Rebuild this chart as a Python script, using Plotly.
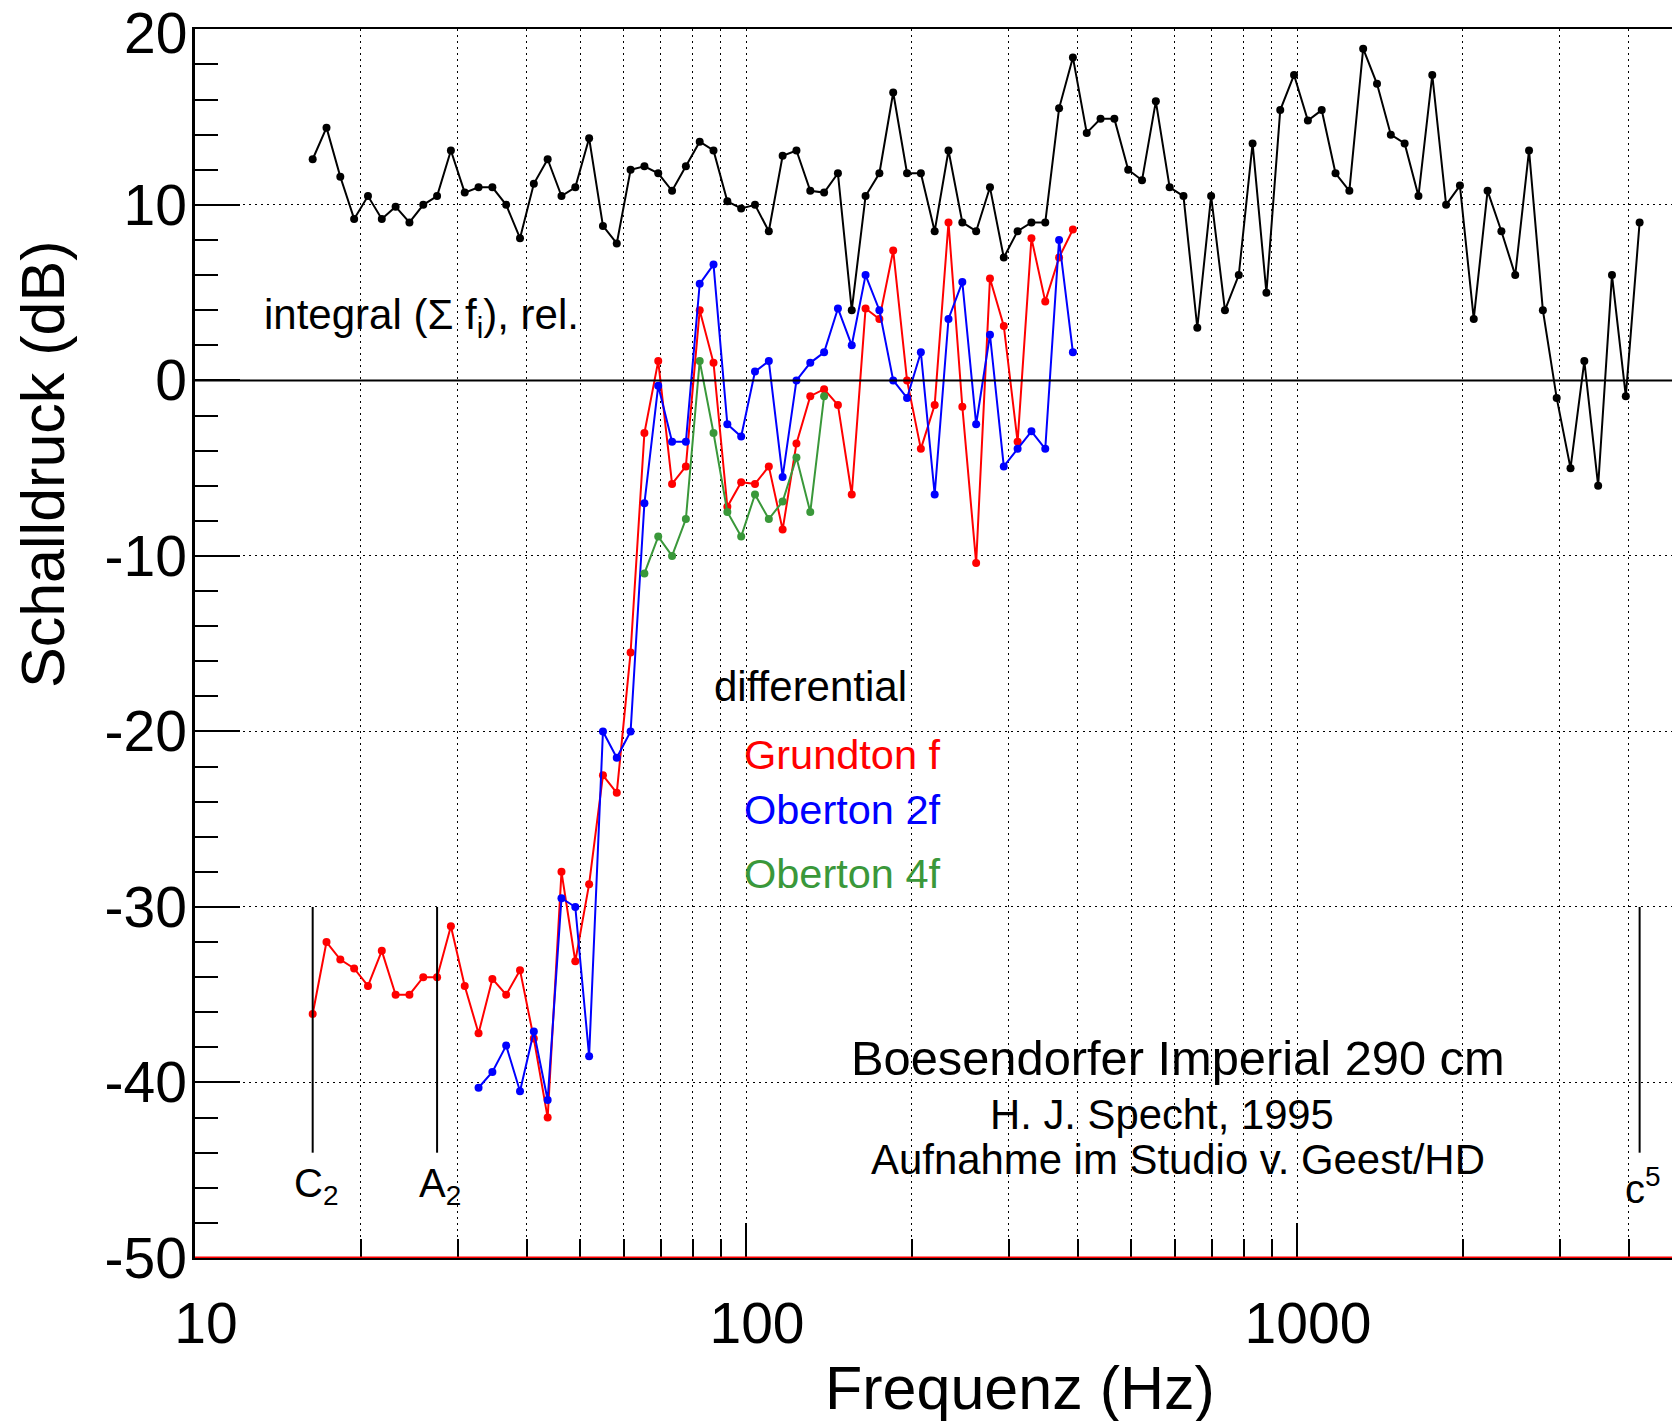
import numpy as np
import plotly.graph_objects as go

# ---------------- data ----------------
# piano keys: index of semitone above C2 (16.352 Hz, subcontra C)
def key_freq(k):
    return 16.352 * 2 ** (np.asarray(k) / 12.0)

integral_keys = list(range(0, 97))
integral_db = [12.6, 14.4, 11.6, 9.2, 10.5, 9.2, 9.9, 9.0, 10.0, 10.5,
               13.1, 10.7, 11.0, 11.0, 10.0, 8.1, 11.2, 12.6, 10.5, 11.0,
               13.8, 8.8, 7.8, 12.0, 12.2, 11.8, 10.8, 12.2, 13.6, 13.1,
               10.2, 9.8, 10.0, 8.5, 12.8, 13.1, 10.8, 10.7, 11.8, 4.0,
               10.5, 11.8, 16.4, 11.8, 11.8, 8.5, 13.1, 9.0, 8.5, 11.0,
               7.0, 8.5, 9.0, 9.0, 15.5, 18.4, 14.1, 14.9, 14.9, 12.0,
               11.4, 15.9, 11.0, 10.5, 3.0, 10.5, 4.0, 6.0, 13.5, 5.0,
               15.4, 17.4, 14.8, 15.4, 11.8, 10.8, 18.9, 16.9, 14.0, 13.5,
               10.5, 17.4, 10.0, 11.1, 3.5, 10.8, 8.5, 6.0, 13.1, 4.0,
               -1.0, -5.0, 1.1, -6.0, 6.0, -0.9, 9.0]

grundton_keys = list(range(0, 56))
grundton_db = [-36.1, -32.0, -33.0, -33.5, -34.5, -32.5, -35.0, -35.0, -34.0, -34.0,
               -31.1, -34.5, -37.2, -34.1, -35.0, -33.6, -37.5, -42.0, -28.0, -33.1,
               -28.7, -22.5, -23.5, -15.5, -3.0, 1.1, -5.9, -4.9, 4.0, 1.0,
               -7.2, -5.8, -5.9, -4.9, -8.5, -3.6, -0.9, -0.5, -1.4, -6.5,
               4.1, 3.5, 7.4, 0.0, -3.9, -1.4, 9.0, -1.5, -10.4, 5.8,
               3.1, -3.5, 8.1, 4.5, 7.0, 8.6]

oberton2_keys = list(range(12, 56))
oberton2_db = [-40.3, -39.4, -37.9, -40.5, -37.1, -41.0, -29.5, -30.0, -38.5, -20.0,
               -21.5, -20.0, -7.0, -0.3, -3.5, -3.5, 5.5, 6.6, -2.5, -3.2,
               0.5, 1.1, -5.5, 0.0, 1.0, 1.6, 4.1, 2.0, 6.0, 4.0,
               0.0, -1.0, 1.6, -6.5, 3.5, 5.6, -2.5, 2.6, -4.9, -3.9,
               -2.9, -3.9, 8.0, 1.6]

oberton4_keys = list(range(24, 38))
oberton4_db = [-11.0, -8.9, -10.0, -7.9, 1.1, -3.0, -7.5, -8.9, -6.5, -7.9,
               -6.9, -4.4, -7.5, -0.9]

note_names = ["C<sub>2</sub>", "A<sub>2</sub>", "c<sup>5</sup>"]
note_keys = [0, 9, 96]

x_major = [10, 100, 1000]
x_major_text = ["10", "100", "1000"]
x_minor = [20, 30, 40, 50, 60, 70, 80, 90, 200, 300, 400, 500, 600, 700, 800, 900,
           2000, 3000, 4000]
y_ticks = [-50, -40, -30, -20, -10, 0, 10, 20]
y_ticktext = ["-50", "-40", "-30", "-20", "-10", "0", "10", ""]
y_top_label = "20"

# ---------------- geometry ----------------
W, H = 1672, 1421
L, R, T, B = 195, 0, 29, 163
XLOG_MIN = 1.0
XLOG_MAX = 1.0 + (W - L - R) / 551.0
Y_MIN, Y_MAX = -50, 20.02
PW = W - L - R
PH = H - T - B

def xp(px):
    return (px - L) / PW

def yp(py):
    return (H - B - py) / PH

def xf(freq):
    return (np.log10(freq) - XLOG_MIN) / (XLOG_MAX - XLOG_MIN)

FONT = "Liberation Sans, Arial, Helvetica, sans-serif"
GREEN = "#3a983a"

fig = go.Figure()

def add_series(keys, vals, color):
    fig.add_trace(go.Scatter(
        x=key_freq(keys), y=vals, mode="lines+markers",
        line=dict(color=color, width=2),
        marker=dict(color=color, size=8, symbol="circle"),
        showlegend=False, hoverinfo="skip"))

add_series(integral_keys, integral_db, "black")
add_series(grundton_keys, grundton_db, "red")
add_series(oberton2_keys, oberton2_db, "blue")
add_series(oberton4_keys, oberton4_db, GREEN)

# vertical note markers
for k in note_keys:
    f = float(key_freq(k))
    fig.add_trace(go.Scatter(x=[f, f], y=[-30, -44], mode="lines",
                             line=dict(color="black", width=2),
                             showlegend=False, hoverinfo="skip"))

shapes = [
    dict(type="line", xref="paper", yref="y", x0=0, x1=1, y0=0, y1=0,
         line=dict(color="black", width=2)),
    dict(type="line", xref="paper", yref="y", x0=0, x1=1, y0=-50, y1=-50,
         line=dict(color="red", width=3), layer="above"),
]

annotations = []
def ann(text, x, y, size, color="black", xanchor="left", yanchor="middle", **kw):
    annotations.append(dict(text=text, x=x, y=y, xref="paper", yref="paper",
                            xanchor=xanchor, yanchor=yanchor, showarrow=False,
                            font=dict(family=FONT, size=size, color=color), **kw))

# top y tick label, kept fully inside the page
ann(y_top_label, xp(188), yp(0), 57, xanchor="right", yanchor="top", borderpad=0)
ann("integral (\u03a3 f<sub>i</sub>), rel.", xp(262), yp(318), 42)
ann("differential", xp(712), yp(686), 42)
ann("Grundton f", xp(742), yp(754), 41.5, color="red")
ann("Oberton 2f", xp(742), yp(809), 41.5, color="blue")
ann("Oberton 4f", xp(742), yp(874), 41.5, color=GREEN)
ann("Boesendorfer Imperial 290 cm", xp(1178), yp(1058), 48.8, xanchor="center")
ann("H. J. Specht, 1995", xp(1162), yp(1114), 41.8, xanchor="center")
ann("Aufnahme im Studio v. Geest/HD", xp(1178), yp(1159), 41.9, xanchor="center")
for name, k in zip(note_names, note_keys):
    ann(name, xf(float(key_freq(k))) + 0.002, yp(1186), 40, xanchor="center")
ann("Frequenz (Hz)", xp(1020), yp(1388), 61, xanchor="center")
ann("Schalldruck (dB)", xp(43), yp(464), 61, xanchor="center", textangle=-90)

fig.update_layout(
    width=W, height=H,
    margin=dict(l=L, r=R, t=T, b=B, pad=0),
    paper_bgcolor="white", plot_bgcolor="white",
    showlegend=False,
    font=dict(family=FONT, color="black"),
    shapes=shapes, annotations=annotations,
    xaxis=dict(
        type="log", range=[XLOG_MIN, XLOG_MAX],
        tickmode="array", tickvals=x_major, ticktext=x_major_text,
        ticks="inside", ticklen=35, tickwidth=1.5, tickcolor="black",
        tickfont=dict(size=57, family=FONT),
        ticklabelstandoff=15, ticklabelshift=11,
        showline=True, linecolor="black", linewidth=2, mirror=True,
        showgrid=True, gridcolor="black", gridwidth=1.2, griddash="2px,4px",
        minor=dict(tickmode="array", tickvals=x_minor, ticks="inside", ticklen=19,
                   tickwidth=1.5, tickcolor="black", showgrid=True,
                   gridcolor="black", gridwidth=1.2, griddash="2px,4px"),
        zeroline=False, fixedrange=True),
    yaxis=dict(
        range=[Y_MIN, Y_MAX],
        tickmode="array", tickvals=y_ticks, ticktext=y_ticktext,
        ticks="inside", ticklen=45, tickwidth=1.5, tickcolor="black",
        tickfont=dict(size=57, family=FONT),
        ticklabelstandoff=-6,
        showline=True, linecolor="black", linewidth=2.5, mirror=False,
        showgrid=True, gridcolor="black", gridwidth=1.2, griddash="2px,4px",
        minor=dict(dtick=2, ticks="inside", ticklen=23, tickwidth=1.5,
                   tickcolor="black", showgrid=False),
        zeroline=False, fixedrange=True),
)

fig.write_html("out.html",
               config=dict(displayModeBar=False),
               post_script="document.body.style.margin='0px';"
                           "document.body.style.overflow='hidden';")
